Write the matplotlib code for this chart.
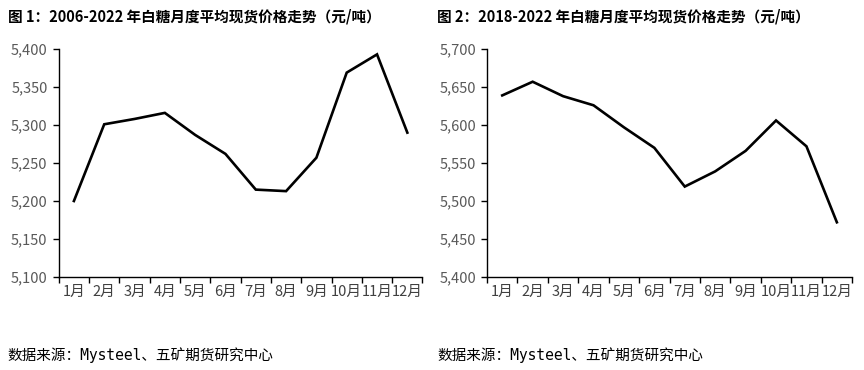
import matplotlib
matplotlib.use('Agg')
import matplotlib.pyplot as plt
import numpy as np
from matplotlib.ticker import FuncFormatter, FixedLocator

plt.rcParams['font.family'] = ['Noto Sans CJK SC', 'DejaVu Sans']

# 数据
months = ['1月', '2月', '3月', '4月', '5月', '6月', '7月', '8月', '9月', '10月', '11月', '12月']
price_2006_2022 = [5200, 5301, 5308, 5316, 5287, 5262, 5215, 5213, 5257, 5369, 5393, 5290]
price_2018_2022 = [5639, 5657, 5638, 5626, 5597, 5570, 5519, 5539, 5566, 5606, 5572, 5472]

titles = ['图 1：2006-2022 年白糖月度平均现货价格走势（元/吨）',
          '图 2：2018-2022 年白糖月度平均现货价格走势（元/吨）']
source = '数据来源：Mysteel、五矿期货研究中心'

fig = plt.figure(figsize=(8.64, 3.7), dpi=100)
ax1 = fig.add_axes([0.068, 0.2514, 0.421, 0.616])
ax2 = fig.add_axes([0.5637, 0.2514, 0.4225, 0.616])

x = np.arange(len(months))
for ax, vals, ylim in [(ax1, price_2006_2022, (5100, 5400)),
                       (ax2, price_2018_2022, (5400, 5700))]:
    ax.plot(x, vals, color='black', linewidth=1.9, solid_joinstyle='miter')
    ax.set_xlim(-0.5, len(months) - 0.5)
    ax.set_ylim(*ylim)
    ax.set_yticks(np.arange(ylim[0], ylim[1] + 1, 50))
    ax.yaxis.set_major_formatter(FuncFormatter(lambda v, p: f'{int(v):,}'))
    ax.set_xticks(x)
    ax.set_xticklabels(months)
    ax.xaxis.set_minor_locator(FixedLocator(np.arange(-0.5, len(months), 1.0)))
    ax.tick_params(axis='x', which='major', length=0, labelsize=10.5,
                   labelcolor='#404040', pad=6)
    ax.tick_params(axis='x', which='minor', length=4, width=1, direction='out')
    ax.tick_params(axis='y', length=4, width=1, direction='out',
                   labelsize=10.5, labelcolor='#595959', pad=4)
    for s in ['top', 'right']:
        ax.spines[s].set_visible(False)
    for s in ['left', 'bottom']:
        ax.spines[s].set_linewidth(1.0)
        ax.spines[s].set_color('black')

fig.text(0.009, 0.955, titles[0], fontsize=10.5, fontweight='bold', va='center')
fig.text(0.506, 0.955, titles[1], fontsize=10.5, fontweight='bold', va='center')
src_font = ['DejaVu Sans Mono', 'Noto Sans CJK SC']
fig.text(0.009, 0.04, source, fontsize=10.5, va='center', family=src_font)
fig.text(0.506, 0.04, source, fontsize=10.5, va='center', family=src_font)

fig.savefig('out.png', dpi=100, facecolor='white')
